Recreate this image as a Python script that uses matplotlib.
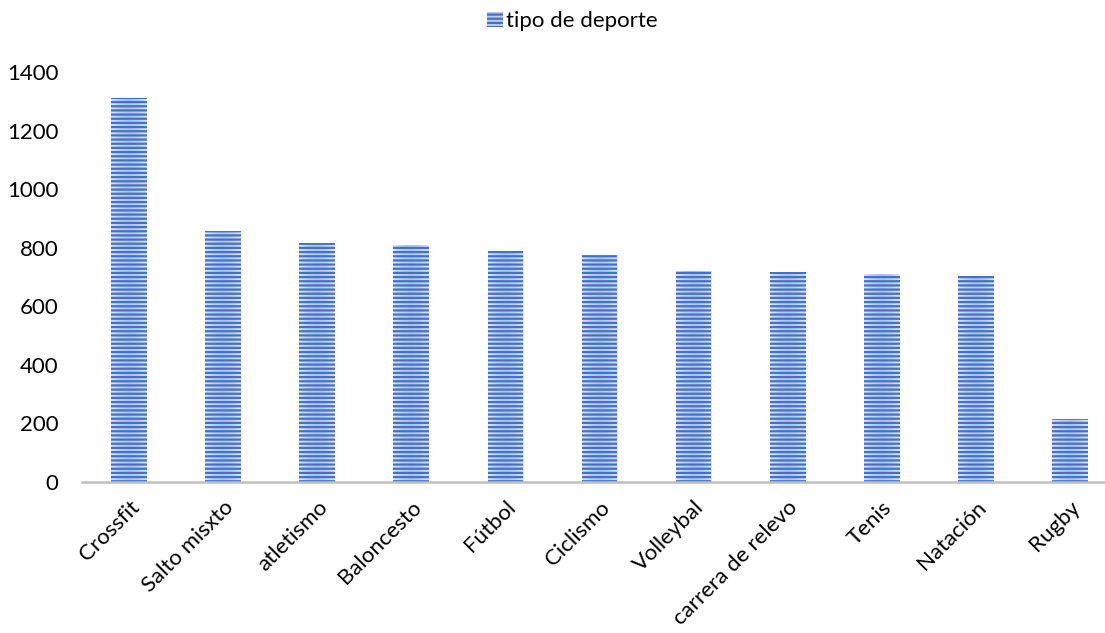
import numpy as np
import matplotlib
matplotlib.use("Agg")
import matplotlib.pyplot as plt
from matplotlib.patches import Patch
from matplotlib.colors import LinearSegmentedColormap

categories = ["Crossfit", "Salto misxto", "atletismo", "Baloncesto", "Fútbol",
              "Ciclismo", "Volleybal", "carrera de relevo", "Tenis", "Natación", "Rugby"]
values = [1310, 857, 816, 809, 789, 775, 720, 717, 710, 703, 215]
series_name = "tipo de deporte"
yticks = [0, 200, 400, 600, 800, 1000, 1200, 1400]

plt.rcParams["font.family"] = ["Lato", "DejaVu Sans"]
plt.rcParams["hatch.linewidth"] = 1.6

FS = 16
STRIPE = "#4472C4"

fig = plt.figure(figsize=(11.05, 6.33), dpi=100)
ax = fig.add_axes([0.0742, 0.2385, 0.9367, 0.6477])

x = np.arange(len(categories))
bars = ax.bar(x, values, width=0.38, facecolor="none", edgecolor=STRIPE,
              linewidth=0, hatch="----", zorder=3)

# soft horizontal gradient inside each bar (lighter toward the edges)
grad_cmap = LinearSegmentedColormap.from_list(
    "bar_grad", ["#DCE5F6", "#BCCDEE", "#AFC4EA", "#BCCDEE", "#DCE5F6"])
grad = np.linspace(0, 1, 64).reshape(1, -1)
for b in bars:
    x0, y0 = b.get_x(), b.get_y()
    w, h = b.get_width(), b.get_height()
    im = ax.imshow(grad, cmap=grad_cmap, aspect="auto",
                   extent=(x0, x0 + w, y0, y0 + h), zorder=2, interpolation="bilinear")
    im.set_clip_path(b)

ax.set_xlim(-0.5, len(categories) - 0.5)
ax.set_ylim(0, 1400)
ax.set_yticks(yticks)
ax.set_yticklabels([str(v) for v in yticks], fontsize=FS)
ax.set_xticks(x)
ax.set_xticklabels(categories, fontsize=FS, rotation=45, ha="right",
                   va="top", rotation_mode="anchor")
ax.tick_params(axis="both", length=0)
ax.tick_params(axis="y", pad=17)
ax.tick_params(axis="x", pad=11)

for s in ["top", "right", "left"]:
    ax.spines[s].set_visible(False)
ax.spines["bottom"].set_color("#BFBFBF")
ax.spines["bottom"].set_linewidth(1.8)
ax.spines["bottom"].set_zorder(4)

handle = Patch(facecolor="#BCCDEE", edgecolor=STRIPE, linewidth=0, hatch="----")
fig.legend([handle], [series_name], loc="upper center", bbox_to_anchor=(0.518, 1.014),
           frameon=False, fontsize=FS, handlelength=0.7, handleheight=0.7,
           handletextpad=0.15)

fig.savefig("out.png", dpi=100)
